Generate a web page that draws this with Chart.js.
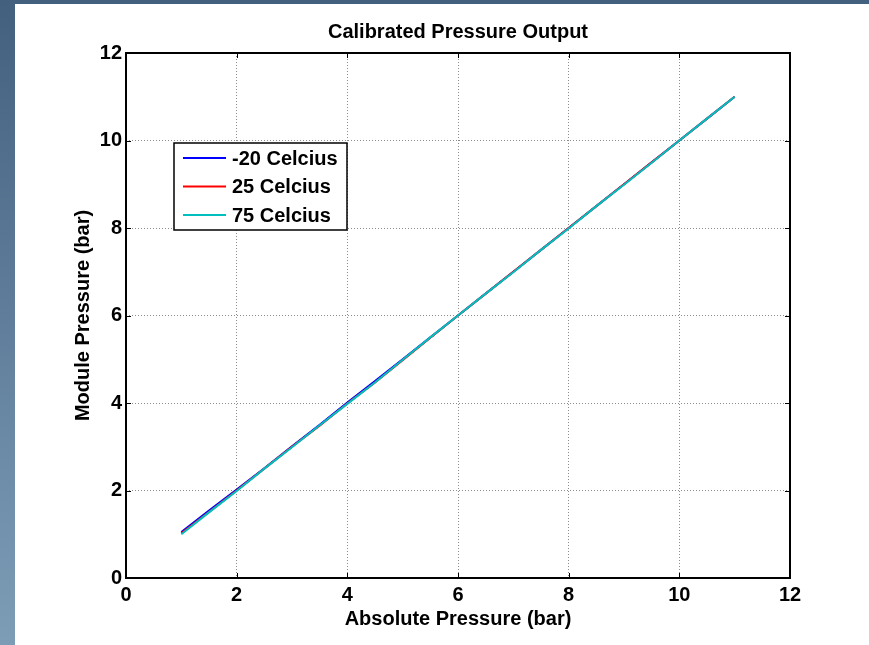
<!DOCTYPE html>
<html>
<head>
<meta charset="utf-8">
<script src="https://cdn.jsdelivr.net/npm/chart.js@4.4.0/dist/chart.umd.min.js"></script>
<style>
    html, body { margin: 0; padding: 0; }
    body {
        width: 869px;
        height: 645px;
        position: relative;
        overflow: hidden;
        background: linear-gradient(to bottom, #44607f, #7d9db7);
    }
    #sheet {
        position: absolute;
        left: 15px;
        top: 4px;
        right: 0;
        bottom: 0;
        background: #ffffff;
    }
    #wrap {
        position: absolute;
        left: 0;
        top: 0;
        width: 869px;
        height: 645px;
    }
</style>
</head>
<body>
<div id="sheet"></div>
<div id="wrap"><canvas id="chart" width="869" height="645"></canvas></div>
<script>
// Absolute pressure (bar) sample points
const absPressure = [1, 1.5, 2, 2.5, 3, 3.5, 4, 4.5, 5, 5.5, 6, 6.5, 7, 7.5, 8, 8.5, 9, 9.5, 10, 10.5, 11];

// Module pressure readings (bar) per temperature
const minus20 = [1.05, 1.54, 2.02, 2.51, 3.01, 3.5, 4.01, 4.5, 5.0, 5.5, 6.0, 6.5, 7.0, 7.5, 8.0, 8.5, 9.0, 9.5, 10.0, 10.5, 11.0];
const plus25  = [1.02, 1.51, 2.0, 2.5, 3.0, 3.48, 3.99, 4.47, 4.98, 5.49, 6.0, 6.5, 7.0, 7.5, 8.0, 8.5, 9.0, 9.5, 10.0, 10.5, 11.0];
const plus75  = [1.0, 1.5, 1.99, 2.5, 2.99, 3.49, 3.98, 4.47, 4.99, 5.5, 6.0, 6.5, 6.99, 7.5, 7.99, 8.5, 8.99, 9.49, 10.0, 10.5, 11.0];

const seriesNames = ['-20 Celcius', '25 Celcius', '75 Celcius'];
const seriesColors = ['#0000ff', '#ff0000', '#00bfbf'];
const tickValues = [0, 2, 4, 6, 8, 10, 12];

const FONT = 'Liberation Sans, Arial, Helvetica, sans-serif';
const FONT_SIZE = 20;

function toPoints(ys) {
    return absPressure.map((x, i) => ({ x: x, y: ys[i] }));
}

// Box frame + inner tick marks, like MATLAB's "box on"
const framePlugin = {
    id: 'frame',
    afterDraw(chart) {
        const { ctx, chartArea: a, scales } = chart;
        ctx.save();
        ctx.strokeStyle = '#000';
        ctx.lineWidth = 1;
        ctx.beginPath();
        tickValues.forEach(v => {
            const px = Math.round(scales.x.getPixelForValue(v)) + 0.5;
            const py = Math.round(scales.y.getPixelForValue(v)) + 0.5;
            ctx.moveTo(px, a.bottom); ctx.lineTo(px, a.bottom - 5);
            ctx.moveTo(px, a.top); ctx.lineTo(px, a.top + 5);
            ctx.moveTo(a.left, py); ctx.lineTo(a.left + 5, py);
            ctx.moveTo(a.right, py); ctx.lineTo(a.right - 5, py);
        });
        ctx.stroke();
        ctx.lineWidth = 2;
        ctx.strokeRect(a.left, a.top, a.right - a.left, a.bottom - a.top);
        ctx.restore();
    }
};

// Legend box inside the plot, top-left
const boxLegend = {
    id: 'boxLegend',
    afterDraw(chart) {
        const { ctx, chartArea: a } = chart;
        const x0 = a.left + 48, y0 = a.top + 90;
        const w = 173, h = 87, rowH = 28.5;
        ctx.save();
        ctx.fillStyle = '#fff';
        ctx.fillRect(x0, y0, w, h);
        ctx.strokeStyle = '#000';
        ctx.lineWidth = 1.5;
        ctx.strokeRect(x0, y0, w, h);
        ctx.font = 'bold ' + FONT_SIZE + 'px ' + FONT;
        ctx.textBaseline = 'middle';
        chart.data.datasets.forEach((ds, i) => {
            const cy = y0 + 15 + i * rowH;
            ctx.strokeStyle = ds.borderColor;
            ctx.lineWidth = 2;
            ctx.beginPath();
            ctx.moveTo(x0 + 9, cy);
            ctx.lineTo(x0 + 52, cy);
            ctx.stroke();
            ctx.fillStyle = '#000';
            ctx.fillText(ds.label, x0 + 58, cy + 1);
        });
        ctx.restore();
    }
};

const ctx = document.getElementById('chart').getContext('2d');
const boldFont = { family: FONT, size: FONT_SIZE, weight: 'bold' };

new Chart(ctx, {
    type: 'line',
    data: {
        datasets: [minus20, plus25, plus75].map((ys, i) => ({
            label: seriesNames[i],
            data: toPoints(ys),
            borderColor: seriesColors[i],
            backgroundColor: seriesColors[i],
            borderWidth: 2,
            pointRadius: 0,
            tension: 0,
            fill: false,
            order: 2 - i   // later series drawn on top, as in MATLAB
        }))
    },
    options: {
        responsive: false,
        animation: false,
        layout: { padding: { left: 0, right: 79, top: 0, bottom: 0 } },
        scales: {
            x: {
                type: 'linear',
                min: 0,
                max: 12,
                afterBuildTicks: axis => { axis.ticks = tickValues.map(v => ({ value: v })); },
                afterFit: scale => { scale.height = 67; },
                grid: { color: '#8c8c8c', lineWidth: 1, drawTicks: false },
                border: { display: false, dash: [1, 2] },
                ticks: { color: '#000', padding: 5, font: boldFont },
                title: {
                    display: true,
                    text: 'Absolute Pressure (bar)',
                    color: '#000',
                    padding: { top: 0, bottom: 14 },
                    font: boldFont
                }
            },
            y: {
                type: 'linear',
                min: 0,
                max: 12,
                afterBuildTicks: axis => { axis.ticks = tickValues.map(v => ({ value: v })); },
                afterFit: scale => { scale.width = 126; },
                grid: { color: '#8c8c8c', lineWidth: 1, drawTicks: false },
                border: { display: false, dash: [1, 2] },
                ticks: { color: '#000', padding: 4, font: boldFont },
                title: {
                    display: true,
                    text: 'Module Pressure (bar)',
                    color: '#000',
                    padding: { top: 71, bottom: 0 },
                    font: boldFont
                }
            }
        },
        plugins: {
            legend: { display: false },
            tooltip: { enabled: false },
            title: {
                display: true,
                fullSize: false,
                text: 'Calibrated Pressure Output',
                color: '#000',
                padding: { top: 20, bottom: 9 },
                font: boldFont
            }
        }
    },
    plugins: [framePlugin, boxLegend]
});
</script>
</body>
</html>
